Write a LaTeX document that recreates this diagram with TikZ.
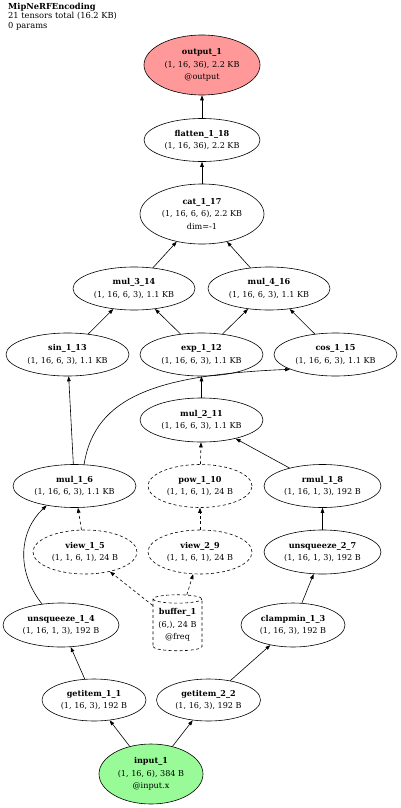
\documentclass[tikz,border=0pt]{standalone}
\usepackage{fontspec}
\setmainfont{DejaVu Serif}
\usetikzlibrary{shapes.geometric,arrows.meta}
\definecolor{outfill}{HTML}{FF9999}
\definecolor{infill}{HTML}{98FB98}
\begin{document}
\begin{tikzpicture}[x=1pt,y=-1pt,
  op/.style={ellipse,draw,line width=0.6pt,inner sep=0pt,align=center,font=\fontsize{8.1}{12.5}\selectfont},
  dsh/.style={dash pattern=on 3pt off 2.5pt},
  edge/.style={-{Triangle[length=5pt,width=3.6pt]},line width=0.6pt}]
\useasboundingbox (0,0) rectangle (400,808);
\node[anchor=north west,align=left,inner sep=0pt,font=\fontsize{8.3}{9.3}\selectfont] (title) at (8,3)
  {\textbf{MipNeRFEncoding}\\21 tensors total (16.2 KB)\\0 params};
\node[op,minimum width=116pt,minimum height=60pt,fill=outfill] (output) at (202,65) {\textbf{output\_1}\\(1, 16, 36), 2.2 KB\\@output};
\node[op,minimum width=116pt,minimum height=43pt] (flatten) at (202,140) {\textbf{flatten\_1\_18}\\(1, 16, 36), 2.2 KB};
\node[op,minimum width=124pt,minimum height=60pt] (cat) at (202,214) {\textbf{cat\_1\_17}\\(1, 16, 6, 6), 2.2 KB\\dim=-1};
\node[op,minimum width=122pt,minimum height=43pt] (mul3) at (134,288.5) {\textbf{mul\_3\_14}\\(1, 16, 6, 3), 1.1 KB};
\node[op,minimum width=122pt,minimum height=43pt] (mul4) at (269,288.5) {\textbf{mul\_4\_16}\\(1, 16, 6, 3), 1.1 KB};
\node[op,minimum width=123pt,minimum height=43pt] (sin) at (67.5,354.5) {\textbf{sin\_1\_13}\\(1, 16, 6, 3), 1.1 KB};
\node[op,minimum width=123pt,minimum height=43pt] (exp) at (201.5,354.5) {\textbf{exp\_1\_12}\\(1, 16, 6, 3), 1.1 KB};
\node[op,minimum width=123pt,minimum height=43pt] (cos) at (335.5,354.5) {\textbf{cos\_1\_15}\\(1, 16, 6, 3), 1.1 KB};
\node[op,minimum width=123pt,minimum height=44pt] (mul2) at (201.5,420) {\textbf{mul\_2\_11}\\(1, 16, 6, 3), 1.1 KB};
\node[op,minimum width=123pt,minimum height=43pt] (mul1) at (74.5,486) {\textbf{mul\_1\_6}\\(1, 16, 6, 3), 1.1 KB};
\node[op,dsh,minimum width=104pt,minimum height=43pt] (pow) at (200,486) {\textbf{pow\_1\_10}\\(1, 1, 6, 1), 24 B};
\node[op,minimum width=117pt,minimum height=43pt] (rmul) at (322.5,486) {\textbf{rmul\_1\_8}\\(1, 16, 1, 3), 192 B};
\node[op,dsh,minimum width=104pt,minimum height=44pt] (view1) at (85,552) {\textbf{view\_1\_5}\\(1, 1, 6, 1), 24 B};
\node[op,dsh,minimum width=104pt,minimum height=44pt] (view2) at (200,552) {\textbf{view\_2\_9}\\(1, 1, 6, 1), 24 B};
\node[op,minimum width=117pt,minimum height=44pt] (u7) at (322.5,552) {\textbf{unsqueeze\_2\_7}\\(1, 16, 1, 3), 192 B};
\node[cylinder,shape border rotate=90,draw,dsh,line width=0.6pt,minimum width=49pt,minimum height=56pt,aspect=0.22,inner sep=0pt,align=center,font=\fontsize{8.1}{12.5}\selectfont] (buffer) at (177.5,625) {\textbf{buffer\_1}\\(6,), 24 B\\@freq};
\node[op,minimum width=116pt,minimum height=44pt] (u4) at (61,625) {\textbf{unsqueeze\_1\_4}\\(1, 16, 1, 3), 192 B};
\node[op,minimum width=104pt,minimum height=44pt] (clamp) at (293,625) {\textbf{clampmin\_1\_3}\\(1, 16, 3), 192 B};
\node[op,minimum width=104pt,minimum height=42pt] (g1) at (94,700) {\textbf{getitem\_1\_1}\\(1, 16, 3), 192 B};
\node[op,minimum width=104pt,minimum height=42pt] (g2) at (208.5,700) {\textbf{getitem\_2\_2}\\(1, 16, 3), 192 B};
\node[op,minimum width=104pt,minimum height=60pt,fill=infill] (input) at (151,774) {\textbf{input\_1}\\(1, 16, 6), 384 B\\@input.x};
\draw[edge] (flatten) -- (output);
\draw[edge] (cat) -- (flatten);
\draw[edge] (mul3) -- (cat);
\draw[edge] (mul4) -- (cat);
\draw[edge] (sin) -- (mul3);
\draw[edge] (exp) -- (mul3);
\draw[edge] (exp) -- (mul4);
\draw[edge] (cos) -- (mul4);
\draw[edge] (mul2) -- (exp);
\draw[edge] (mul1) -- (sin);
\draw[edge] (mul1.66) .. controls (95,395) and (160,375) .. (cos.-162);
\draw[edge] (rmul) -- (mul2);
\draw[edge,dsh] (pow) -- (mul2);
\draw[edge,dsh] (view1) -- (mul1);
\draw[edge] (u4.132) .. controls (15,570) and (20,530) .. (mul1.-145);
\draw[edge,dsh] (view2) -- (pow);
\draw[edge] (u7) -- (rmul);
\draw[edge,dsh] (buffer) -- (view1);
\draw[edge,dsh] (buffer) -- (view2);
\draw[edge] (clamp) -- (u7);
\draw[edge] (g1) -- (u4);
\draw[edge] (g2) -- (clamp);
\draw[edge] (input) -- (g1);
\draw[edge] (input) -- (g2);
\end{tikzpicture}
\end{document}
